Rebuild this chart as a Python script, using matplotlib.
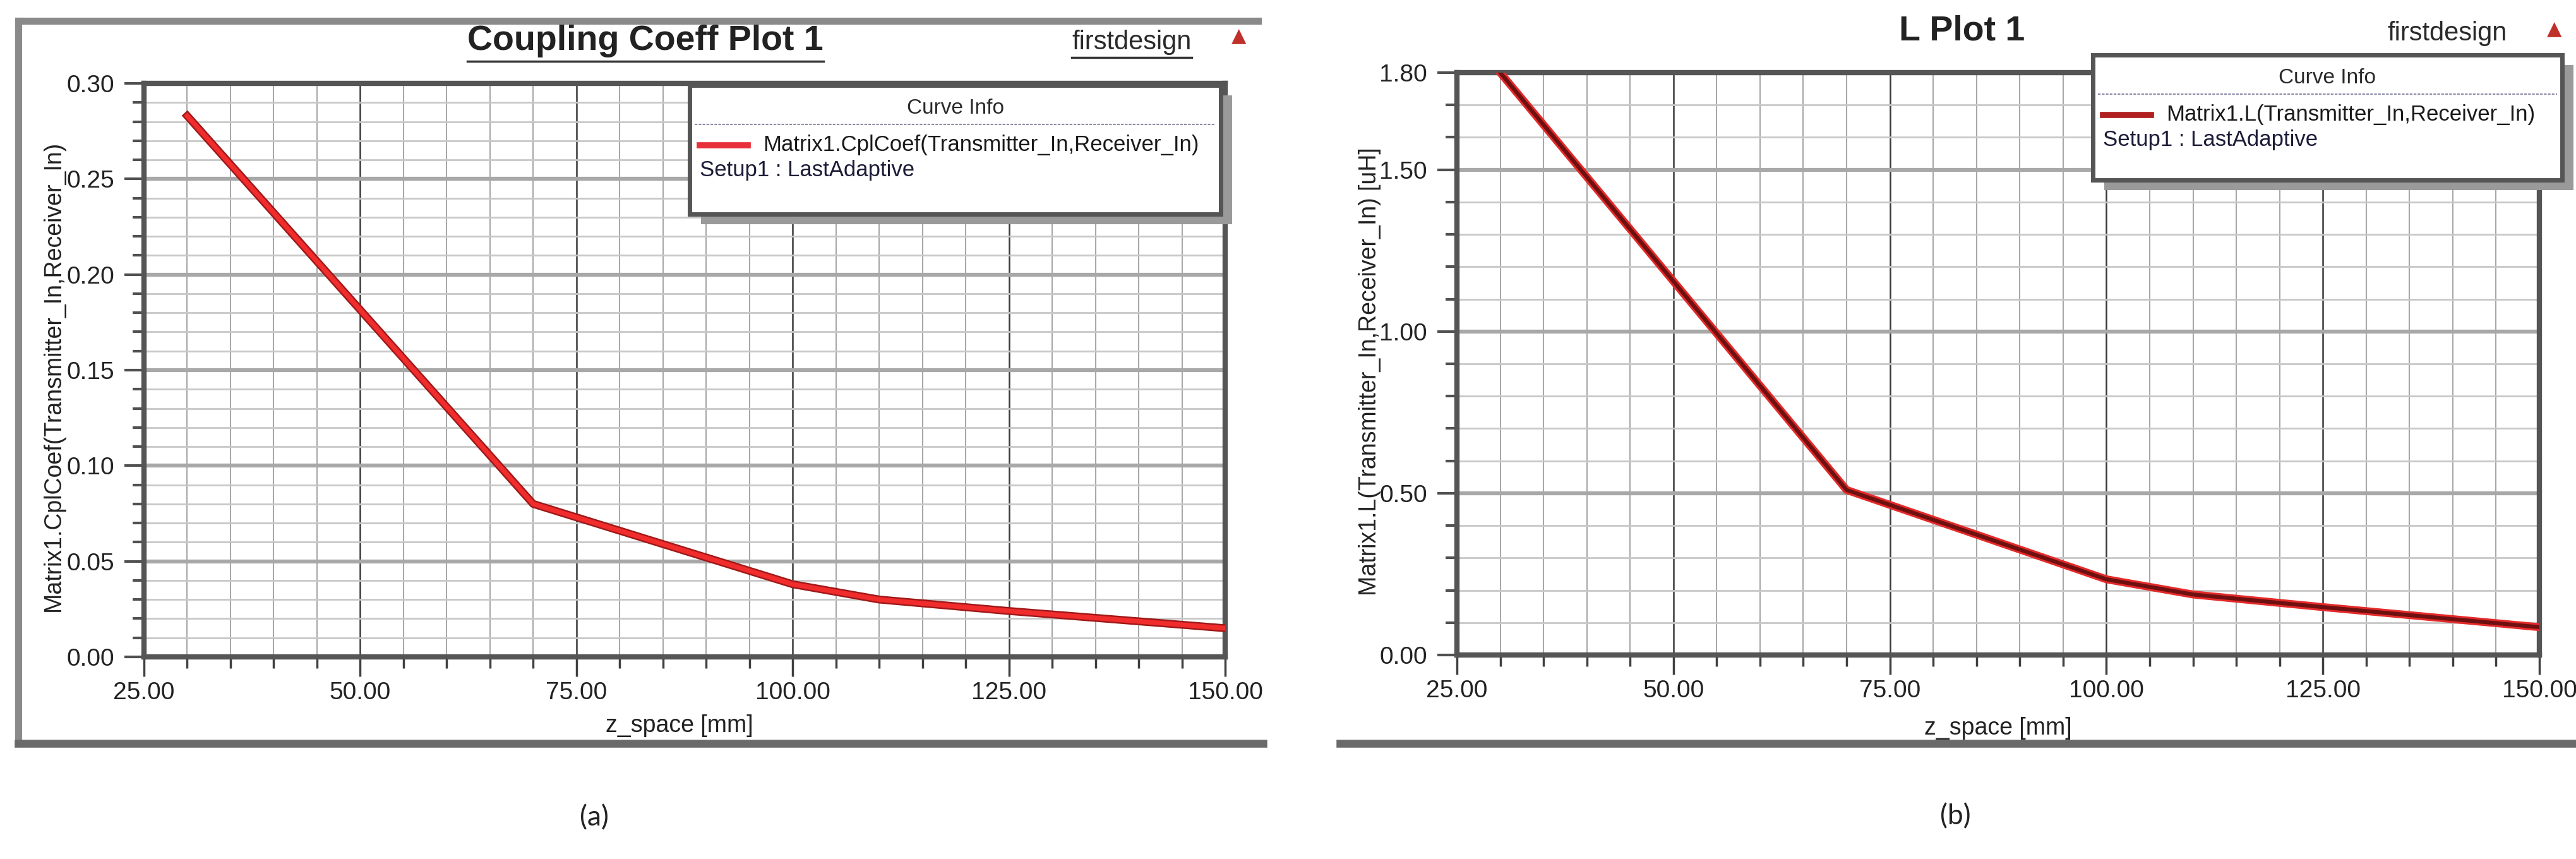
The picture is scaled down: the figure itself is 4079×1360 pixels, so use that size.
import matplotlib
matplotlib.use("Agg")
import matplotlib.pyplot as plt
from matplotlib.ticker import MultipleLocator, FixedLocator, FormatStrFormatter
from matplotlib.patches import Rectangle
from matplotlib.lines import Line2D

plt.rcParams['font.family'] = ['Liberation Sans', 'DejaVu Sans']

# values
z_space = [30, 70, 100, 110, 125, 150]
coupling_coeff = [0.283, 0.080, 0.038, 0.030, 0.024, 0.015]
inductance_uh = [1.80, 0.51, 0.234, 0.187, 0.148, 0.086]

x_ticks = [25, 50, 75, 100, 125, 150]
k_ticks = [0.00, 0.05, 0.10, 0.15, 0.20, 0.25, 0.30]
l_ticks = [0.00, 0.50, 1.00, 1.50, 1.80]

W, H = 4080, 1360
fig = plt.figure(figsize=(W / 100, H / 100), dpi=100)
fig.patch.set_facecolor("white")


def fx(px):
    return px / W


def fy(py):
    return 1 - py / H


def fig_line(x0, y0, x1, y1, **kw):
    fig.add_artist(Line2D([fx(x0), fx(x1)], [fy(y0), fy(y1)], transform=fig.transFigure, **kw))


def style_axes(ax, yticks, yminor):
    ax.set_xlim(25, 150)
    ax.set_ylim(yticks[0], yticks[-1])
    ax.xaxis.set_major_locator(FixedLocator(x_ticks))
    ax.xaxis.set_minor_locator(MultipleLocator(5))
    ax.yaxis.set_major_locator(FixedLocator(yticks))
    ax.yaxis.set_minor_locator(MultipleLocator(yminor))
    ax.xaxis.set_major_formatter(FormatStrFormatter('%.2f'))
    ax.yaxis.set_major_formatter(FormatStrFormatter('%.2f'))
    ax.set_axisbelow(True)
    ax.grid(which='minor', axis='y', color='#c8c8c8', lw=2)
    ax.grid(which='major', axis='y', color='#a8a8a8', lw=4.5)
    ax.grid(which='minor', axis='x', color='#a8a8a8', lw=1.5)
    ax.grid(which='major', axis='x', color='#3a3a3a', lw=1.8)
    for s in ax.spines.values():
        s.set_color('#555555')
        s.set_linewidth(6)
    ax.tick_params(which='major', axis='y', length=22, width=3, color='#505050',
                   labelsize=28, labelcolor='#222222', pad=12)
    ax.tick_params(which='minor', axis='y', length=13, width=3, color='#505050')
    ax.tick_params(which='major', axis='x', length=22, width=2.5, color='#404040',
                   labelsize=28, labelcolor='#222222', pad=6)
    ax.tick_params(which='minor', axis='x', length=13, width=2.5, color='#404040')


def legend_box(x0, y0, x1, y1, label, swatch_col):
    fig.add_artist(Rectangle((fx(x0 + 18), fy(y1 + 16)), fx(x1 - x0), (y1 - y0) / H,
                             transform=fig.transFigure, facecolor='#9a9a9a',
                             edgecolor='none', zorder=5))
    fig.add_artist(Rectangle((fx(x0), fy(y1)), fx(x1 - x0), (y1 - y0) / H,
                             transform=fig.transFigure, facecolor='white',
                             edgecolor='#555555', lw=5, zorder=6))
    fig.text(fx((x0 + x1) / 2), fy(y0 + 36), "Curve Info", ha='center', va='center',
             fontsize=24, color='#2a2a2a', zorder=7)
    fig_line(x0 + 8, y0 + 62, x1 - 8, y0 + 62, color='#8a8aa8', lw=1.5,
             ls=(0, (2, 1)), zorder=7)
    fig_line(x0 + 16, y0 + 95, x0 + 92, y0 + 95, color=swatch_col, lw=7, zorder=7)
    fig.text(fx(x0 + 116), fy(y0 + 95), label, ha='left', va='center',
             fontsize=25, color='#1a1a1a', zorder=7)
    fig.text(fx(x0 + 16), fy(y0 + 135), "Setup1 : LastAdaptive", ha='left', va='center',
             fontsize=25, color='#1c1c38', zorder=7)


# ---------- (a) coupling coefficient ----------
ax1 = fig.add_axes([fx(228), fy(1040), fx(1940 - 228), (1040 - 132) / H])
style_axes(ax1, k_ticks, 0.01)
ax1.plot(z_space, coupling_coeff, color='#a01818', lw=9, zorder=3)
ax1.plot(z_space, coupling_coeff, color='#f02c2c', lw=5.5, zorder=4)
ax1.set_xlabel("z_space [mm]", fontsize=27, color='#222222')
ax1.xaxis.set_label_coords(0.495, -0.10)
ax1.set_ylabel("Matrix1.CplCoef(Transmitter_In,Receiver_In)", fontsize=27, color='#222222')
ax1.yaxis.set_label_coords(-0.073, 0.49)

# outer frame of panel (a)
fig_line(29, 33, 1992, 33, color='#8a8a8a', lw=8)
fig_line(29, 33, 29, 1177, color='#8a8a8a', lw=8)
fig_line(29, 1177, 2000, 1177, color='#6a6a6a', lw=9)

t1 = fig.text(fx(1022), fy(65), "Coupling Coeff Plot 1", ha='center', va='center',
              fontsize=40, fontweight='bold', color='#222222')
fd1 = fig.text(fx(1792), fy(67), "firstdesign", ha='center', va='center',
               fontsize=30, color='#2a2a2a')
fig.text(fx(1962), fy(58), "\u25b2", ha='center', va='center', fontsize=22,
         color='#c0302a', family=['DejaVu Sans'])
legend_box(1092, 135, 1933, 339, "Matrix1.CplCoef(Transmitter_In,Receiver_In)", '#e8303a')

# ---------- (b) inductance ----------
ax2 = fig.add_axes([fx(2307), fy(1037), fx(4021 - 2307), (1037 - 115) / H])
style_axes(ax2, l_ticks, 0.1)
ax2.plot(z_space, inductance_uh, color='#e42a2a', lw=9, zorder=3)
ax2.plot(z_space, inductance_uh, color='#6e1010', lw=4.5, zorder=4)
ax2.set_xlabel("z_space [mm]", fontsize=27, color='#222222')
ax2.xaxis.set_label_coords(0.50, -0.106)
ax2.set_ylabel("Matrix1.L(Transmitter_In,Receiver_In) [uH]", fontsize=27, color='#222222')
ax2.yaxis.set_label_coords(-0.070, 0.487)

fig_line(2122, 1177, 4080, 1177, color='#6a6a6a', lw=9)

fig.text(fx(3107), fy(50), "L Plot 1", ha='center', va='center',
         fontsize=40, fontweight='bold', color='#222222')
fig.text(fx(3875), fy(53), "firstdesign", ha='center', va='center',
         fontsize=30, color='#2a2a2a')
fig.text(fx(4045), fy(47), "\u25b2", ha='center', va='center', fontsize=22,
         color='#c0302a', family=['DejaVu Sans'])
legend_box(3314, 87, 4057, 285, "Matrix1.L(Transmitter_In,Receiver_In)", '#b02020')

# panel captions
fig.text(fx(941), fy(1295), "(a)", ha='center', va='center', fontsize=32,
         family=['Lato', 'DejaVu Sans'], color='#222222')
fig.text(fx(3096), fy(1293), "(b)", ha='center', va='center', fontsize=32,
         family=['Lato', 'DejaVu Sans'], color='#222222')

# underline the left title and the design name
fig.canvas.draw()
renderer = fig.canvas.get_renderer()
for t, gap in [(t1, 6), (fd1, 4)]:
    bb = t.get_window_extent(renderer)
    fig.add_artist(Line2D([bb.x0 / W, bb.x1 / W], [(bb.y0 - gap) / H, (bb.y0 - gap) / H],
                          transform=fig.transFigure, color='#333333', lw=2.5))

fig.savefig("out.png", dpi=100)
